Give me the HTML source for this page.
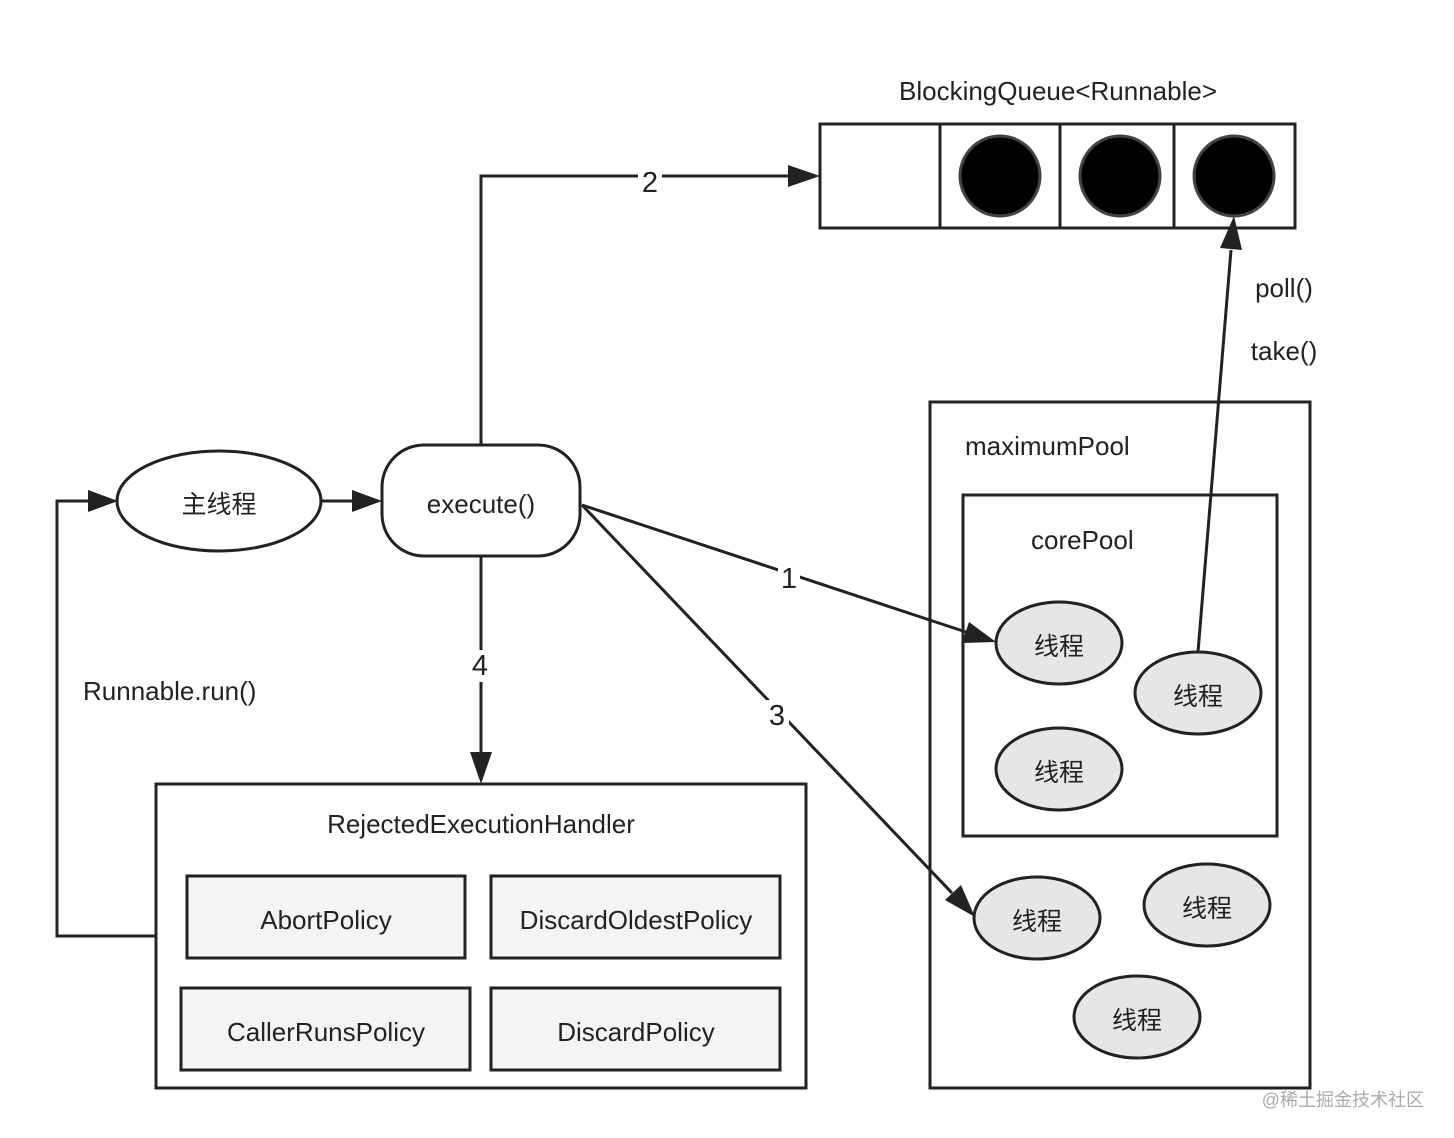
<!DOCTYPE html>
<html><head><meta charset="utf-8"><style>
html,body{margin:0;padding:0;background:#fff;}
svg{display:block;}
text{font-family:"Liberation Sans","Noto Sans CJK SC",sans-serif;fill:#222;}
</style></head><body>
<svg width="1454" height="1138" viewBox="0 0 1454 1138" xmlns="http://www.w3.org/2000/svg">
<g stroke="#222" stroke-width="3" fill="none">
<rect x="820" y="124" width="475" height="104"/>
<line x1="940" y1="124" x2="940" y2="228"/>
<line x1="1060" y1="124" x2="1060" y2="228"/>
<line x1="1174" y1="124" x2="1174" y2="228"/>
</g>
<g fill="#000" stroke="#444" stroke-width="3">
<circle cx="1000" cy="176" r="40"/><circle cx="1120" cy="176" r="40"/><circle cx="1234" cy="176" r="40"/>
</g>
<text x="1058" y="100" font-size="26" text-anchor="middle">BlockingQueue&lt;Runnable&gt;</text>

<g stroke="#222" stroke-width="3" fill="none">
<polyline points="481,445 481,176 788,176" />
<line x1="320" y1="501" x2="352" y2="501"/>
<polyline points="155,936 57,936 57,501 88,501"/>
<line x1="481" y1="556" x2="481" y2="752"/>
<line x1="582" y1="505" x2="966" y2="632"/>
<line x1="582" y1="505" x2="952" y2="893"/>
<line x1="1198" y1="652" x2="1231" y2="250"/>
<ellipse cx="219" cy="501" rx="102" ry="50" fill="#fff"/>
<rect x="382" y="445" width="198" height="111" rx="42" fill="#fff"/>
<rect x="156" y="784" width="650" height="304"/>
<rect x="930" y="402" width="380" height="686"/>
<rect x="963" y="495" width="314" height="341"/>
</g>
<g fill="#222">
<path d="M820,176 L788,165 L788,187 Z"/>
<path d="M382,501 L352,490 L352,512 Z"/>
<path d="M118,501 L88,490 L88,512 Z"/>
<path d="M481,784 L470,752 L492,752 Z"/>
<path d="M996,642 L962,643 L969,622 Z"/>
<path d="M975,917 L945,900 L961,885 Z"/>
<path d="M1234,216 L1220,248 L1242,250 Z"/>
</g>
<rect x="638" y="166" width="24" height="30" fill="#fff"/>
<text x="650" y="192" font-size="29" text-anchor="middle">2</text>
<rect x="468" y="650" width="26" height="32" fill="#fff"/>
<text x="480" y="675" font-size="29" text-anchor="middle">4</text>
<rect x="778" y="563" width="22" height="30" fill="#fff"/>
<text x="789" y="588" font-size="29" text-anchor="middle">1</text>
<rect x="765" y="700" width="24" height="30" fill="#fff"/>
<text x="777" y="725" font-size="29" text-anchor="middle">3</text>

<text x="219" y="513" font-size="25" text-anchor="middle">主线程</text>
<text x="481" y="513" font-size="26" text-anchor="middle">execute()</text>
<text x="83" y="700" font-size="26">Runnable.run()</text>
<text x="481" y="833" font-size="26" text-anchor="middle">RejectedExecutionHandler</text>
<text x="965" y="455" font-size="26">maximumPool</text>
<text x="1031" y="549" font-size="26">corePool</text>
<text x="1284" y="297" font-size="26" text-anchor="middle">poll()</text>
<text x="1284" y="360" font-size="26" text-anchor="middle">take()</text>

<g stroke="#222" stroke-width="3" fill="#f4f4f4">
<rect x="187" y="876" width="278" height="82"/>
<rect x="491" y="876" width="289" height="82"/>
<rect x="181" y="988" width="289" height="82"/>
<rect x="491" y="988" width="289" height="82"/>
</g>
<text x="326" y="929" font-size="26" text-anchor="middle">AbortPolicy</text>
<text x="636" y="929" font-size="26" text-anchor="middle">DiscardOldestPolicy</text>
<text x="326" y="1041" font-size="26" text-anchor="middle">CallerRunsPolicy</text>
<text x="636" y="1041" font-size="26" text-anchor="middle">DiscardPolicy</text>

<g stroke="#222" stroke-width="3" fill="#e6e6e6">
<ellipse cx="1059" cy="643" rx="63" ry="41"/>
<ellipse cx="1198" cy="693" rx="63" ry="41"/>
<ellipse cx="1059" cy="769" rx="63" ry="41"/>
<ellipse cx="1037" cy="918" rx="63" ry="41"/>
<ellipse cx="1207" cy="905" rx="63" ry="41"/>
<ellipse cx="1137" cy="1017" rx="63" ry="41"/>
</g>
<g font-size="25" text-anchor="middle">
<text x="1059" y="655">线程</text>
<text x="1198" y="705">线程</text>
<text x="1059" y="781">线程</text>
<text x="1037" y="930">线程</text>
<text x="1207" y="917">线程</text>
<text x="1137" y="1029">线程</text>
</g>
<text x="1424" y="1106" font-size="18" text-anchor="end" style="fill:#aaa">@稀土掘金技术社区</text>
</svg>
</body></html>
